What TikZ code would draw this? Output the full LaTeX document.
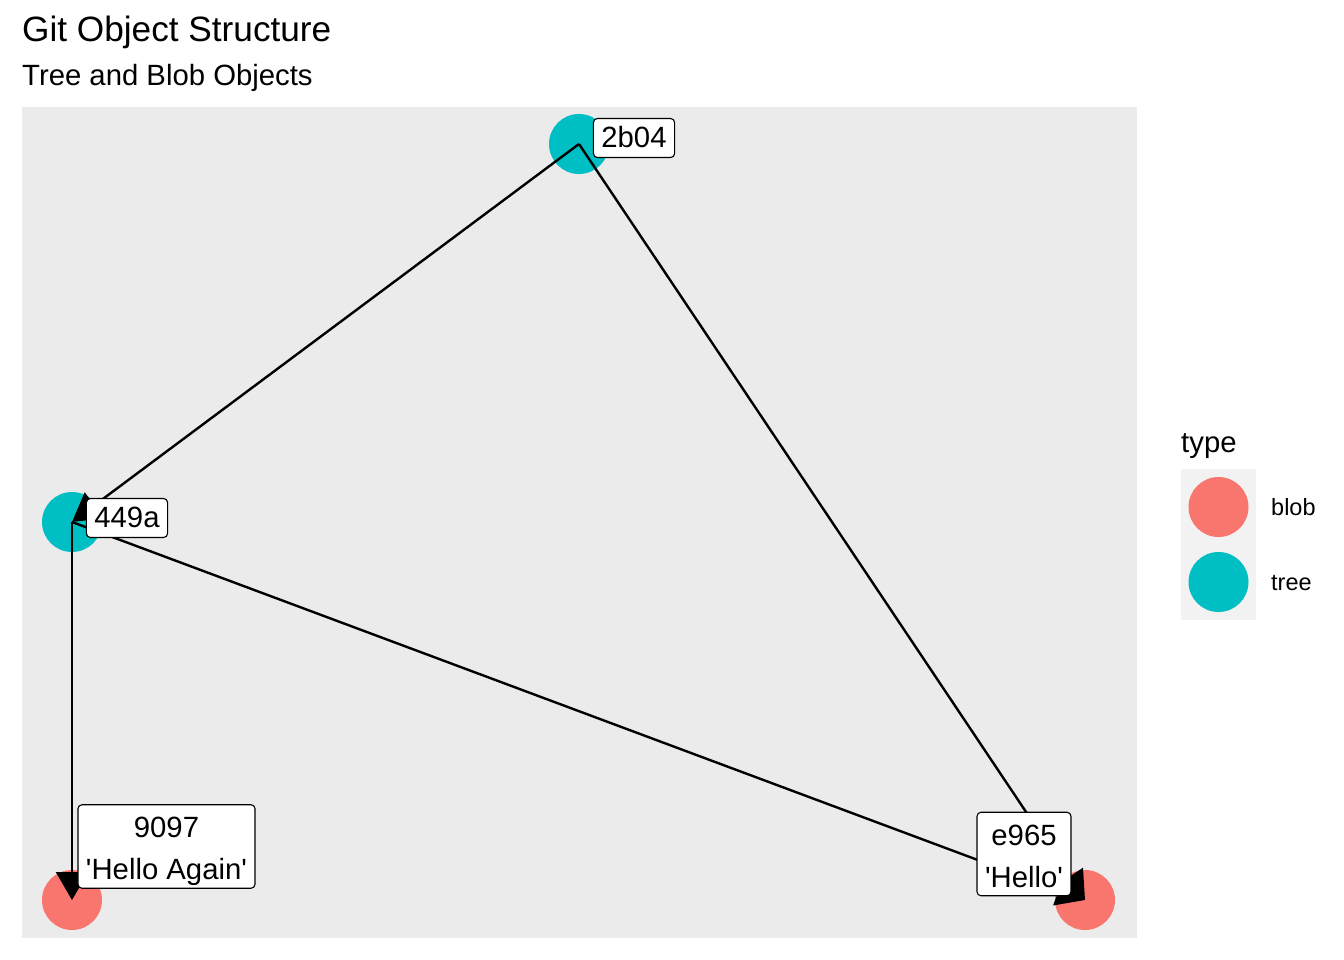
\documentclass[tikz,border=0pt]{standalone}
\usepackage{fontspec}
\setmainfont{Liberation Sans}
\usetikzlibrary{arrows.meta}
\definecolor{panelbg}{HTML}{EBEBEB}
\definecolor{keybg}{HTML}{F2F2F2}
\definecolor{blobcol}{HTML}{F8766D}
\definecolor{treecol}{HTML}{00BFC4}
\newcommand{\topstrut}{\rule{0pt}{33pt}}
\newcommand{\botstrut}{\rule[-8.5pt]{0pt}{8.5pt}}
\newcommand{\sq}{\textquotesingle}
\tikzset{
  objdot/.style={circle, inner sep=0pt, minimum size=60pt},
  blobdot/.style={objdot, fill=blobcol},
  treedot/.style={objdot, fill=treecol},
  edge/.style={draw=black, line width=2.4pt, -{Triangle[length=28pt, width=32pt]}},
  lbl/.style={draw=black, fill=white, rounded corners=4pt, line width=1.1pt,
    inner xsep=8pt, font=\fontsize{29.3}{42}\selectfont},
  lblone/.style={lbl, inner ysep=7pt, text height=22pt, text depth=3pt},
  lbltwo/.style={lbl, inner ysep=0pt, align=center},
  titletxt/.style={anchor=base west, inner sep=0pt, font=\fontsize{35.2}{42}\selectfont},
  subtxt/.style={anchor=base west, inner sep=0pt, font=\fontsize{29.3}{36}\selectfont},
  legtxt/.style={anchor=base west, inner sep=0pt, font=\fontsize{23.5}{28}\selectfont},
}
\begin{document}
\begin{tikzpicture}[x=1pt, y=-1pt]
\useasboundingbox (0,0) rectangle (1344,960);
% title
\node[titletxt] (title) at (22,42) {Git Object Structure};
\node[subtxt] (subtitle) at (22,85.5) {Tree and Blob Objects};
% panel
\fill[panelbg] (22,107) rectangle (1137,938);
% nodes
\node[treedot] (n2b04) at (579,144) {};
\node[treedot] (n449a) at (72,522) {};
\node[blobdot] (n9097) at (72,900) {};
\node[blobdot] (ne965) at (1085,900) {};
% edges
\draw[edge] (n2b04.center) -- (n449a.center);
\draw[edge] (n2b04.center) -- (ne965.center);
\draw[edge] (n449a.center) -- (n9097.center);
\draw[edge] (n449a.center) -- (ne965.center);
% labels
\node[lblone] (l2b04) at (634,138) {2b04};
\node[lblone] (l449a) at (127,518) {449a};
\node[lbltwo] (l9097) at (166.5,846.5) {\topstrut 9097\\\sq Hello Again\sq\botstrut};
\node[lbltwo] (le965) at (1024,854) {\topstrut e965\\\sq Hello\sq\botstrut};
% legend
\node[subtxt] (legtitle) at (1181,452) {type};
\fill[keybg] (1181,469) rectangle (1256,620);
\node[blobdot] (kblob) at (1218.5,507) {};
\node[treedot] (ktree) at (1218.5,582) {};
\node[legtxt] (tblob) at (1271,515) {blob};
\node[legtxt] (ttree) at (1271,590) {tree};
\end{tikzpicture}
\end{document}
